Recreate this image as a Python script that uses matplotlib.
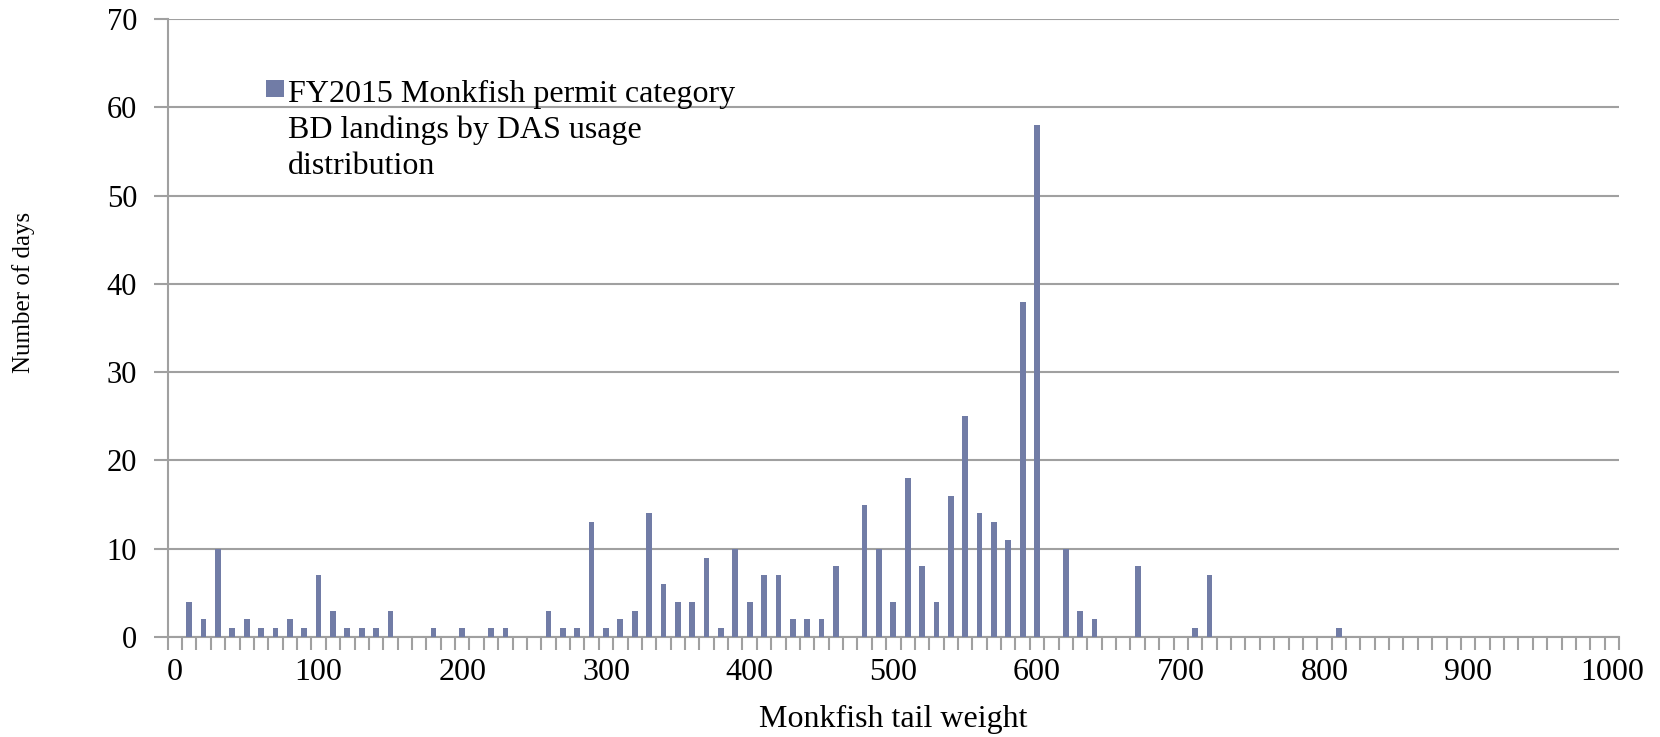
import numpy as np
import matplotlib
matplotlib.use("Agg")
import matplotlib.pyplot as plt

# tail weight bins (0..1000 step 10) and number of days in each
weights = list(range(0, 1001, 10))
days_nonzero = {
    10: 4, 20: 2, 30: 10, 40: 1, 50: 2, 60: 1, 70: 1, 80: 2, 90: 1, 100: 7,
    110: 3, 120: 1, 130: 1, 140: 1, 150: 3, 180: 1, 200: 1, 220: 1, 230: 1,
    260: 3, 270: 1, 280: 1, 290: 13, 300: 1, 310: 2, 320: 3, 330: 14, 340: 6,
    350: 4, 360: 4, 370: 9, 380: 1, 390: 10, 400: 4, 410: 7, 420: 7, 430: 2,
    440: 2, 450: 2, 460: 8, 480: 15, 490: 10, 500: 4, 510: 18, 520: 8,
    530: 4, 540: 16, 550: 25, 560: 14, 570: 13, 580: 11, 590: 38, 600: 58,
    620: 10, 630: 3, 640: 2, 670: 8, 710: 1, 720: 7, 810: 1,
}
days = [days_nonzero.get(w, 0) for w in weights]
series_name = "FY2015 Monkfish permit category\nBD landings by DAS usage\ndistribution"

plt.rcParams['font.family'] = ['Liberation Serif', 'DejaVu Serif']

fig = plt.figure(figsize=(16.6, 7.37), dpi=100)
ax = fig.add_axes([167.7 / 1660, 1 - 637 / 737, (1619 - 167.7) / 1660, (637 - 19) / 737])

grid_c = '#A0A0A0'
x = np.arange(len(weights))
ax.bar(x, days, width=0.4, color='#717CA6', zorder=3, label=series_name)

ax.set_xlim(-0.5, len(weights) - 0.5)
ax.set_ylim(0, 70)
ax.set_yticks(range(0, 71, 10))
ax.yaxis.grid(True, color=grid_c, linewidth=1.5, zorder=0)
ax.set_xticks(np.arange(-0.5, len(weights), 1), minor=True)
ax.set_xticks(x[::10])
ax.set_xticklabels([str(w) for w in weights[::10]])
ax.tick_params(axis='x', which='major', length=0, labelsize=23, pad=15)
ax.tick_params(axis='x', which='minor', length=9, width=1.5, color=grid_c, direction='out')
ax.tick_params(axis='y', length=10, width=1.5, color=grid_c, labelsize=22, pad=12)

for s in ['top', 'right']:
    ax.spines[s].set_visible(False)
for s in ['left', 'bottom']:
    ax.spines[s].set_color(grid_c)
    ax.spines[s].set_linewidth(1.5)

ax.set_xlabel("Monkfish tail weight", fontsize=23, labelpad=13)
fig.text(24 / 1660, 1 - 292 / 737, "Number of days", rotation=90, fontsize=18,
         ha='center', va='center')

leg = ax.legend(loc='upper left', bbox_to_anchor=(266 / 1660, 1 - 80 / 737),
                bbox_transform=fig.transFigure, frameon=False, fontsize=23,
                handlelength=0.55, handleheight=0.45, handletextpad=0.15,
                borderpad=0, borderaxespad=0)
leg.get_texts()[0].set_linespacing(1.3)
# put the square next to the first line of the label
for col in leg._legend_handle_box.get_children():
    for item in col.get_children():
        item.align = "top"

fig.savefig("out.png", dpi=100)
